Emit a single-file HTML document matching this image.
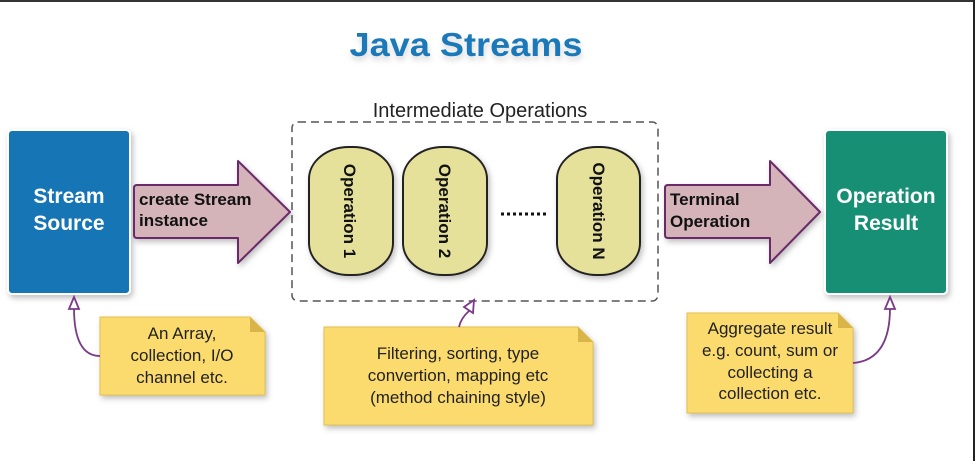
<!DOCTYPE html>
<html><head><meta charset="utf-8"><style>
html,body{margin:0;padding:0;background:#fff;}
svg{display:block;}
text{font-family:"Liberation Sans",Arial,sans-serif;}
</style></head><body>
<svg width="975" height="461" viewBox="0 0 975 461" xmlns="http://www.w3.org/2000/svg">
<defs>
<filter id="sh" x="-20%" y="-20%" width="150%" height="150%"><feDropShadow dx="2" dy="3" stdDeviation="3" flood-color="#000" flood-opacity="0.25"/></filter>
<filter id="tsh" x="-10%" y="-30%" width="120%" height="180%"><feDropShadow dx="1" dy="4" stdDeviation="3" flood-color="#000" flood-opacity="0.15"/></filter>
</defs>
<rect x="0" y="0" width="975" height="461" fill="#fff"/>
<rect x="0" y="0" width="975" height="2" fill="#333"/>
<rect x="973" y="0" width="2" height="461" fill="#222"/>

<text x="466" y="56" text-anchor="middle" font-size="33" font-weight="bold" fill="#1b79b9" textLength="233" lengthAdjust="spacingAndGlyphs" filter="url(#tsh)">Java Streams</text>

<rect x="8" y="130" width="122" height="164" rx="4" fill="#1474b5" stroke="#fff" stroke-width="2" filter="url(#sh)"/>
<text x="69" y="203" text-anchor="middle" font-size="21" font-weight="bold" fill="#fff">Stream</text>
<text x="69" y="230" text-anchor="middle" font-size="21" font-weight="bold" fill="#fff">Source</text>

<rect x="825" y="130" width="122" height="164" rx="4" fill="#188f75" stroke="#fff" stroke-width="2" filter="url(#sh)"/>
<text x="886" y="203" text-anchor="middle" font-size="21" font-weight="bold" fill="#fff">Operation</text>
<text x="886" y="230" text-anchor="middle" font-size="21" font-weight="bold" fill="#fff">Result</text>

<path d="M134 188 Q134 185 137 185 L238 185 L238 161 L290 212 L238 263 L238 238 L137 238 Q134 238 134 235 Z" fill="#d4b4b9" stroke="#6b2a6b" stroke-width="2" stroke-linejoin="round" filter="url(#sh)"/>
<text x="139" y="205" font-size="17" font-weight="bold" fill="#111">create Stream</text>
<text x="139" y="226" font-size="17" font-weight="bold" fill="#111">instance</text>

<path d="M665 188 Q665 185 668 185 L770 185 L770 161 L820 212 L770 263 L770 238 L668 238 Q665 238 665 235 Z" fill="#d4b4b9" stroke="#6b2a6b" stroke-width="2" stroke-linejoin="round" filter="url(#sh)"/>
<text x="670" y="205" font-size="17" font-weight="bold" fill="#111">Terminal</text>
<text x="670" y="227" font-size="17" font-weight="bold" fill="#111">Operation</text>

<rect x="292" y="122" width="366" height="179" rx="6" fill="none" stroke="#555" stroke-width="1.5" stroke-dasharray="8,5"/>
<text x="480" y="117" text-anchor="middle" font-size="20" fill="#222">Intermediate Operations</text>

<g stroke="#222" stroke-width="2" fill="#e5e19b" filter="url(#sh)">
<rect x="309" y="147" width="84" height="128" rx="40" ry="32"/>
<rect x="403" y="147" width="84" height="128" rx="40" ry="32"/>
<rect x="557" y="147" width="83" height="128" rx="40" ry="32"/>
</g>
<text transform="translate(344,211) rotate(90)" text-anchor="middle" font-size="17" font-weight="bold" fill="#111">Operation 1</text>
<text transform="translate(439,211) rotate(90)" text-anchor="middle" font-size="17" font-weight="bold" fill="#111">Operation 2</text>
<text transform="translate(593,211) rotate(90)" text-anchor="middle" font-size="17" font-weight="bold" fill="#111">Operation N</text>
<line x1="501" y1="214" x2="548" y2="214" stroke="#111" stroke-width="3" stroke-dasharray="3,3"/>

<g filter="url(#sh)">
<path d="M100 317 L250 317 L265 332 L265 395 L100 395 Z" fill="#fcdb6e" stroke="#e0c050" stroke-width="1"/>
<path d="M250 317 L250 332 L265 332 Z" fill="#d9b54a"/>
<path d="M324 327 L578 327 L593 342 L593 425 L324 425 Z" fill="#fcdb6e" stroke="#e0c050" stroke-width="1"/>
<path d="M578 327 L578 342 L593 342 Z" fill="#d9b54a"/>
<path d="M687 313 L838 313 L853 328 L853 413 L687 413 Z" fill="#fcdb6e" stroke="#e0c050" stroke-width="1"/>
<path d="M838 313 L838 328 L853 328 Z" fill="#d9b54a"/>
</g>
<g font-size="17" fill="#222" text-anchor="middle">
<text x="182" y="339">An Array,</text>
<text x="182" y="361">collection, I/O</text>
<text x="182" y="383">channel etc.</text>
<text x="458" y="359">Filtering, sorting, type</text>
<text x="458" y="381">convertion, mapping etc</text>
<text x="458" y="403">(method chaining style)</text>
<text x="770" y="334">Aggregate result</text>
<text x="770" y="356">e.g. count, sum or</text>
<text x="770" y="378">collecting a</text>
<text x="770" y="399">collection etc.</text>
</g>

<g fill="none" stroke="#7a3a88" stroke-width="1.8">
<path d="M100 356 Q74 356 74 308"/>
<path d="M853 363 Q890 360 890 308"/>
<path d="M459 327 Q461 318 469 311"/>
</g>
<g fill="#fff" stroke="#7a3a88" stroke-width="1.8">
<path d="M74 297 L69 309 L79 309 Z"/>
<path d="M890 297 L885 309 L895 309 Z"/>
<path d="M474 300 L464 307 L473 313 Z"/>
</g>
</svg>
</body></html>
